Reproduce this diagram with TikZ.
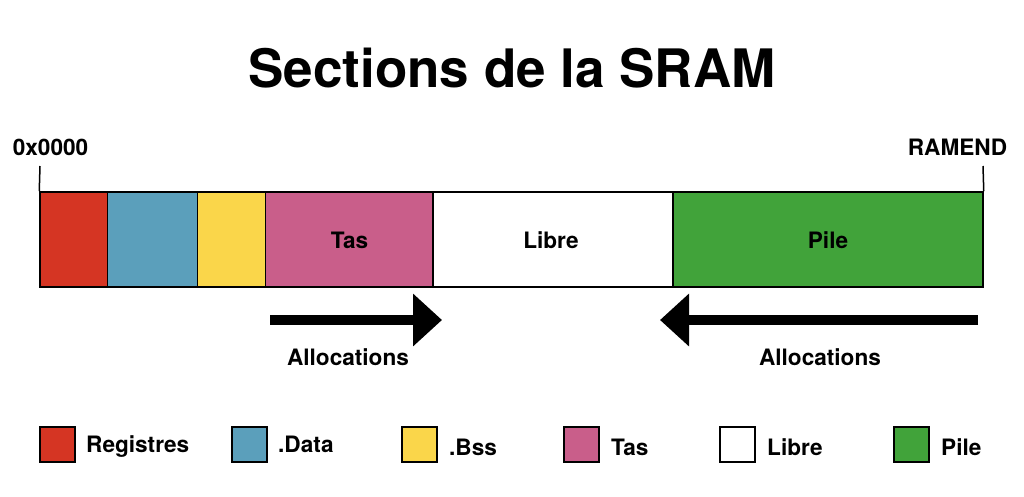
\documentclass[tikz,border=0pt]{standalone}
\usepackage{fontspec}
\setmainfont{TeX Gyre Heros}
\usetikzlibrary{arrows.meta}
\definecolor{cred}{HTML}{D53523}
\definecolor{cblue}{HTML}{5B9FBB}
\definecolor{cyellow}{HTML}{FAD64A}
\definecolor{cpink}{HTML}{C95E8A}
\definecolor{cgreen}{HTML}{41A33A}
\tikzset{
  sec/.style={draw=black, line width=1.5pt, minimum height=95pt, inner sep=0pt},
  lab/.style={font=\fontsize{22.6}{26}\selectfont\bfseries, inner sep=0pt},
  leg/.style={draw=black, line width=1.5pt, minimum width=35pt, minimum height=35pt, inner sep=0pt},
  tick/.style={line width=1.5pt},
  bigarrow/.style={line width=10pt, -{Triangle[length=29pt,width=51pt]}}
}
\begin{document}
\begin{tikzpicture}[x=1pt,y=-1pt]
\useasboundingbox (0,0) rectangle (1024,496);
\node[font=\fontsize{53}{60}\selectfont\bfseries, inner sep=0pt] (title) at (512,68) {Sections de la SRAM};
% sections
\node[sec, fill=cred, minimum width=67.5pt] (reg) at (73.75,239.5) {};
\node[sec, fill=cblue, minimum width=90pt] (data) at (152.5,239.5) {};
\node[sec, fill=cyellow, minimum width=68pt] (bss) at (231.5,239.5) {};
\node[sec, fill=cpink, minimum width=167.5pt] (tas) at (349.25,239.5) {};
\node[sec, fill=white, minimum width=240pt] (libre) at (553,239.5) {};
\node[sec, fill=cgreen, minimum width=310pt] (pile) at (828,239.5) {};
\node[lab, anchor=base] (tastxt) at (349.5,248) {Tas};
\node[lab, anchor=base] (libtxt) at (551,248) {Libre};
\node[lab, anchor=base] (piltxt) at (828,248) {Pile};
% ticks
\coordinate (t1) at (40,166);
\coordinate (t2) at (983,166);
\draw[tick] (reg.north west) -- (t1);
\draw[tick] (pile.north east) -- (t2);
\node[lab, anchor=base] (start) at (50.5,155) {0x0000};
\node[lab, anchor=base] (end) at (957.5,155) {RAMEND};
% arrows
\coordinate (a1s) at (270,320);
\coordinate (a1e) at (442,320);
\coordinate (a2s) at (978,320);
\coordinate (a2e) at (660,320);
\draw[bigarrow] (a1s) -- (a1e);
\draw[bigarrow] (a2s) -- (a2e);
\node[lab, anchor=base] (al1) at (348,365) {Allocations};
\node[lab, anchor=base] (al2) at (820,365) {Allocations};
% legend
\node[leg, fill=cred] (l1) at (57.5,444.5) {};
\node[lab, anchor=base west] (lt1) at (86,452.5) {Registres};
\node[leg, fill=cblue] (l2) at (249.5,444.5) {};
\node[lab, anchor=base west] (lt2) at (278,452.5) {.Data};
\node[leg, fill=cyellow] (l3) at (419.5,444.5) {};
\node[lab, anchor=base west] (lt3) at (449,455) {.Bss};
\node[leg, fill=cpink] (l4) at (581.5,444.5) {};
\node[lab, anchor=base west] (lt4) at (611,455) {Tas};
\node[leg, fill=white] (l5) at (737.5,444.5) {};
\node[lab, anchor=base west] (lt5) at (767,455) {Libre};
\node[leg, fill=cgreen] (l6) at (911.5,444.5) {};
\node[lab, anchor=base west] (lt6) at (941,455) {Pile};
\end{tikzpicture}
\end{document}
